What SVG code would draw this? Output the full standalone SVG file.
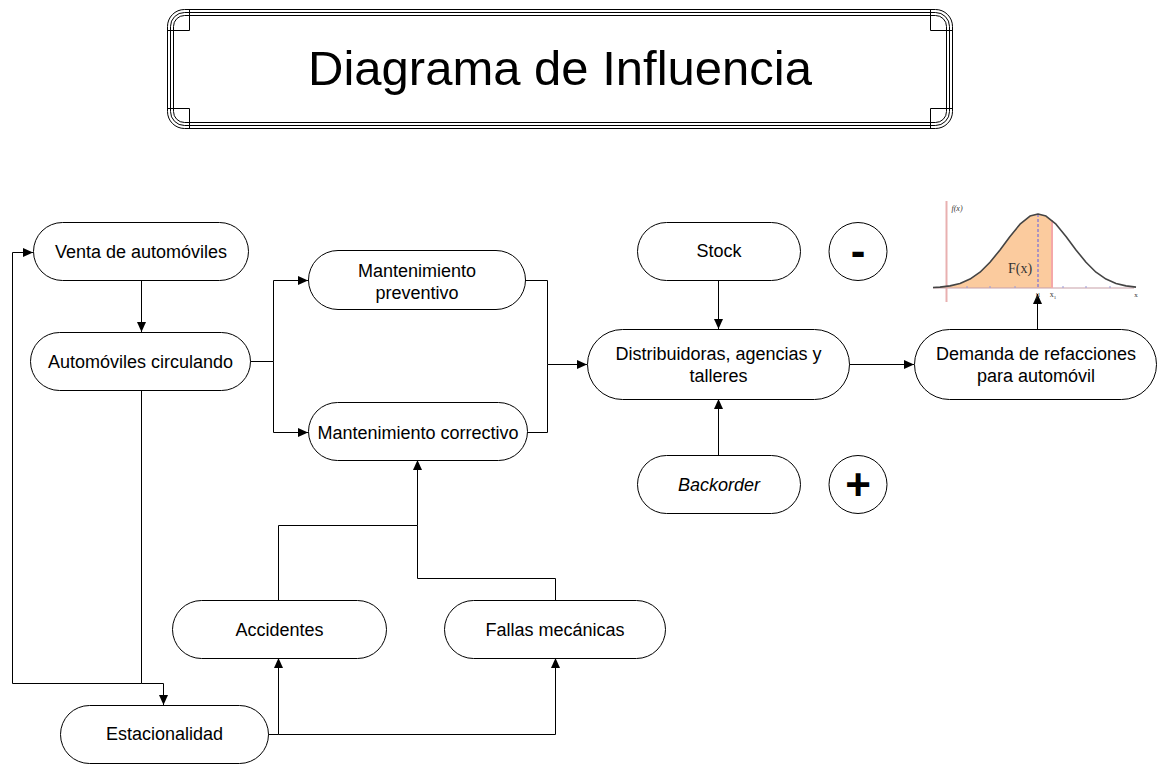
<svg xmlns="http://www.w3.org/2000/svg" width="1158" height="764" viewBox="0 0 1158 764">
<defs>
<style>
.node{fill:#fff;stroke:#000;stroke-width:1}
.t{font-family:"Liberation Sans",Arial,sans-serif;font-size:18px;fill:#000;text-anchor:middle}
.c{fill:none;stroke:#000;stroke-width:1}
.fr{fill:none;stroke:#000;stroke-width:1}
.sym{font-family:"Liberation Sans",Arial,sans-serif;font-size:44px;font-weight:bold;fill:#000;text-anchor:middle}
.ser{font-family:"Liberation Serif","Times New Roman",serif;fill:#333;text-anchor:middle}
</style>
<marker id="arr" markerUnits="userSpaceOnUse" markerWidth="10" markerHeight="9" refX="10" refY="4.5" orient="auto">
<path d="M0,0 L10,4.5 L0,9 z" fill="#000"/>
</marker>
</defs>
<rect width="1158" height="764" fill="#fff"/>

<g id="title">
<rect class="fr" x="167.5" y="9.5" width="785" height="119" rx="17"/>
<rect class="fr" x="170.5" y="12.5" width="779" height="113" rx="14"/>
<rect class="fr" x="173.5" y="15.5" width="773" height="107" rx="11"/>
<path class="fr" d="M167.5,30.5 H189.5 V9.5 M930.5,9.5 V30.5 H952.5 M167.5,108.5 H189.5 V128.5 M930.5,128.5 V108.5 H952.5"/>
<text x="560" y="85" font-family="Liberation Sans,Arial,sans-serif" font-size="49" text-anchor="middle">Diagrama de Influencia</text>
</g>

<g id="connectors">
<path class="c" d="M141.5,280 V332" marker-end="url(#arr)"/>
<path class="c" d="M141.5,390 V683.5 H163.5 V705" marker-end="url(#arr)"/>
<path class="c" d="M141.5,683.5 H12.5 V252.5 H33" marker-end="url(#arr)"/>
<path class="c" d="M250,361.5 H273.5 V280.5 H308" marker-end="url(#arr)"/>
<path class="c" d="M273.5,361.5 V432.5 H308" marker-end="url(#arr)"/>
<path class="c" d="M525,280.5 H547.5 V364.5 H587" marker-end="url(#arr)"/>
<path class="c" d="M527,432.5 H547.5 V364.5"/>
<path class="c" d="M718.5,280 V329" marker-end="url(#arr)"/>
<path class="c" d="M718.5,455 V399" marker-end="url(#arr)"/>
<path class="c" d="M849,364.5 H914" marker-end="url(#arr)"/>
<path class="c" d="M1037.5,329 V294" marker-end="url(#arr)"/>
<path class="c" d="M268,734.5 H278.5 V658" marker-end="url(#arr)"/>
<path class="c" d="M278.5,734.5 H555.5 V658" marker-end="url(#arr)"/>
<path class="c" d="M278.5,600 V525.5 H417.5 V460" marker-end="url(#arr)"/>
<path class="c" d="M555.5,600 V578.5 H417.5 V525.5"/>
</g>

<g id="n-venta"><rect class="node" x="33.5" y="222.5" width="215" height="58" rx="29"/><text class="t" x="141" y="258">Venta de automóviles</text></g>
<g id="n-circulando"><rect class="node" x="30.5" y="332.5" width="220" height="58" rx="29"/><text class="t" x="140.5" y="368">Automóviles circulando</text></g>
<g id="n-preventivo"><rect class="node" x="308.5" y="250.5" width="217" height="59" rx="29.5"/><text class="t" x="417" y="276.5">Mantenimiento</text><text class="t" x="417" y="298.5">preventivo</text></g>
<g id="n-correctivo"><rect class="node" x="308.5" y="402.5" width="219" height="58" rx="29"/><text class="t" x="418" y="438.5">Mantenimiento correctivo</text></g>
<g id="n-distribuidoras"><rect class="node" x="587.5" y="329.5" width="262" height="70" rx="35"/><text class="t" x="718.5" y="359.5">Distribuidoras, agencias y</text><text class="t" x="718.5" y="381.5">talleres</text></g>
<g id="n-stock"><rect class="node" x="637.5" y="222.5" width="163" height="58" rx="29"/><text class="t" x="719" y="257">Stock</text></g>
<g id="n-backorder"><rect class="node" x="637.5" y="455.5" width="163" height="58" rx="29"/><text class="t" x="719" y="490.5" font-style="italic">Backorder</text></g>
<g id="n-minus"><circle class="node" cx="858" cy="251.5" r="29"/><text class="sym" x="858" y="266">-</text></g>
<g id="n-plus"><circle class="node" cx="858" cy="484.5" r="29"/><text class="sym" x="858" y="500">+</text></g>
<g id="n-demanda"><rect class="node" x="914.5" y="329.5" width="242" height="70" rx="35"/><text class="t" x="1036" y="360">Demanda de refacciones</text><text class="t" x="1036" y="382">para automóvil</text></g>
<g id="n-accidentes"><rect class="node" x="172.5" y="600.5" width="214" height="58" rx="29"/><text class="t" x="279.5" y="635.5">Accidentes</text></g>
<g id="n-fallas"><rect class="node" x="444.5" y="600.5" width="221" height="58" rx="29"/><text class="t" x="555" y="635.5">Fallas mecánicas</text></g>
<g id="n-estacionalidad"><rect class="node" x="60.5" y="705.5" width="208" height="58" rx="29"/><text class="t" x="164.5" y="740">Estacionalidad</text></g>

<g id="chart">
<path d="M935,288 L940,287.1 L950,285.9 L960,283.5 L970,279.1 L980,272.2 L990,262.3 L1000,249.9 L1010,236.4 L1020,224.2 L1030,216.1 L1038,214 L1046,216.1 L1052,220.4 V288 Z" fill="#fbcb9e"/>
<line x1="933" y1="288" x2="1134" y2="288" stroke="#c8a0a8" stroke-width="1.2"/>
<line x1="946.5" y1="201" x2="946.5" y2="302" stroke="#e8b0b0" stroke-width="2"/>
<line x1="1052" y1="220" x2="1052" y2="288" stroke="#f5a8a8" stroke-width="2"/>
<line x1="1038" y1="214" x2="1038" y2="288" stroke="#5a5ae6" stroke-width="1" stroke-dasharray="3,2"/>
<path d="M967,286 V288 M990,286 V288 M1015,286 V288 M1063,286 V288 M1086,286 V288 M1110,286 V288" stroke="#9a9ad8" stroke-width="1"/>
<polyline fill="none" stroke="#444" stroke-width="1.6" stroke-linejoin="round" points="933,287.5 940,287.1 950,285.9 960,283.5 970,279.1 980,272.2 990,262.3 1000,249.9 1010,236.4 1020,224.2 1030,216.1 1038,214 1046,216.1 1056,224.2 1066,236.4 1076,249.9 1086,262.3 1096,272.2 1106,279.1 1116,283.5 1126,285.9 1136,287.1"/>
<text class="ser" x="957" y="211" font-size="8" font-style="italic">f(x)</text>
<text class="ser" x="1020" y="273" font-size="14">F(x)</text>
<text class="ser" x="1038" y="297" font-size="8">μ</text>
<text class="ser" x="1053" y="297" font-size="8">x<tspan font-size="5" dy="2">1</tspan></text>
<text class="ser" x="1136" y="297" font-size="7">x</text>
</g>
</svg>
